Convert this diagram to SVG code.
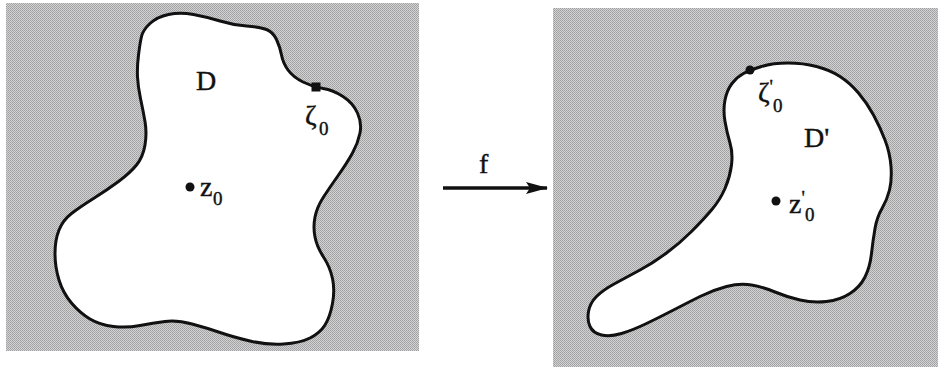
<svg xmlns="http://www.w3.org/2000/svg" width="946" height="376" viewBox="0 0 946 376">
<defs>
<pattern id="halftone" width="2" height="2" patternUnits="userSpaceOnUse">
<rect width="2" height="2" fill="#d2d2d0"/>
<rect x="0" y="0" width="1" height="1" fill="#a0a0a4"/>
<rect x="1" y="1" width="1" height="1" fill="#a8a8a8"/>
</pattern>
<marker id="arrowhead" viewBox="0 0 22 12" refX="21" refY="6" markerWidth="22" markerHeight="12" markerUnits="userSpaceOnUse" orient="auto">
<path d="M0,0 L22,6 L0,12 L4,6 Z" fill="#111"/>
</marker>
<style>
.panel{fill:url(#halftone);}
.blob{fill:#ffffff;stroke:#111;stroke-width:3;stroke-linejoin:round;}
.lbl{font-family:"Liberation Serif","Times New Roman",serif;fill:#111;stroke:#111;stroke-width:0.4;}
.big{font-size:28px;}
.sub{font-size:19px;}
.pt{fill:#111;}
.conn{stroke:#111;stroke-width:3.5;fill:none;}
</style>
</defs>
<rect width="946" height="376" fill="#ffffff"/>

<g id="domain-D">
<rect class="panel" x="6" y="3" width="413" height="348"/>
<path class="blob" d="M 150,23.5 Q 157,17 168.5,14.5 Q 180,12 193.5,14.5 Q 207,17 220,21 Q 233,25 246.5,26 Q 260,27 266.5,29.5 Q 273,32 276.5,39.5 Q 280,47 281.5,55 Q 283,63 288,70 Q 293,77 303,82 Q 313,87 323,88.5 Q 333,90 343,96.5 Q 353,103 357.5,113 Q 362,123 360,133 Q 358,143 352.5,153 Q 347,163 338.5,175 Q 330,187 323.5,197 Q 317,207 315,217 Q 313,227 315,237 Q 317,247 323.5,257 Q 330,267 332.5,278.5 Q 335,290 332.5,303.5 Q 330,317 325,325 Q 320,333 310,338 Q 300,343 283.5,344 Q 267,345 250,341 Q 233,337 220,332.5 Q 207,328 192,324 Q 177,320 165,321.5 Q 153,323 140,325.5 Q 127,328 113.5,326.5 Q 100,325 90,319 Q 80,313 71.5,303 Q 63,293 59,280 Q 55,267 55,253.5 Q 55,240 59,230 Q 63,220 71.5,213.5 Q 80,207 93.5,198.5 Q 107,190 118.5,181.5 Q 130,173 136.5,165 Q 143,157 145,145 Q 147,133 145,121.5 Q 143,110 140.5,98.5 Q 138,87 137.5,77 Q 137,67 138.5,55 Q 140,43 141.5,36.5 Q 143,30 150,23.5 Z"/>
<text class="lbl big" x="196" y="90">D</text>
<rect class="pt" x="311.5" y="82.5" width="9" height="9"/>
<text class="lbl big" x="305" y="125">ζ</text>
<text class="lbl sub" x="319" y="135">0</text>
<circle class="pt" cx="190" cy="187" r="4.5"/>
<text class="lbl big" x="200" y="196">z</text>
<text class="lbl sub" x="213" y="205">0</text>
</g>

<g id="domain-Dprime">
<rect class="panel" x="553" y="8" width="385" height="359"/>
<path class="blob" d="M 761.5,66.5 Q 773,63 788,63 Q 803,63 816.5,66.5 Q 830,70 840,76.5 Q 850,83 858.5,93 Q 867,103 873.5,115 Q 880,127 885,140 Q 890,153 891,166.5 Q 892,180 889.5,190 Q 887,200 882,208.5 Q 877,217 875,228.5 Q 873,240 871.5,253.5 Q 870,267 865,277 Q 860,287 850,293.5 Q 840,300 826.5,301.5 Q 813,303 800,300 Q 787,297 775,292 Q 763,287 751.5,285 Q 740,283 726.5,286.5 Q 713,290 700,296.5 Q 687,303 673.5,310 Q 660,317 646.5,323.5 Q 633,330 621.5,333.5 Q 610,337 601.5,335 Q 593,333 590,326.5 Q 587,320 588.5,311.5 Q 590,303 596.5,296.5 Q 603,290 615,283.5 Q 627,277 640,270 Q 653,263 666.5,253 Q 680,243 691.5,231.5 Q 703,220 711.5,210 Q 720,200 725,188.5 Q 730,177 731.5,165 Q 733,153 730,143 Q 727,133 725,121.5 Q 723,110 725,100 Q 727,90 732,83.5 Q 737,77 743.5,73.5 Q 750,70 761.5,66.5 Z"/>
<circle class="pt" cx="750" cy="70" r="4.5"/>
<text class="lbl big" x="758" y="102">ζ<tspan class="sub" dy="-9">'</tspan><tspan class="sub" dy="19">0</tspan></text>
<text class="lbl big" x="804" y="147">D'</text>
<circle class="pt" cx="776" cy="201" r="4.5"/>
<text class="lbl big" x="789" y="213">z<tspan class="sub" dy="-9">'</tspan><tspan class="sub" dy="17">0</tspan></text>
</g>

<g id="connectors">
<line class="conn" x1="443" y1="188" x2="547" y2="188" marker-end="url(#arrowhead)"/>
<text class="lbl big" x="479" y="173">f</text>
</g>
</svg>
